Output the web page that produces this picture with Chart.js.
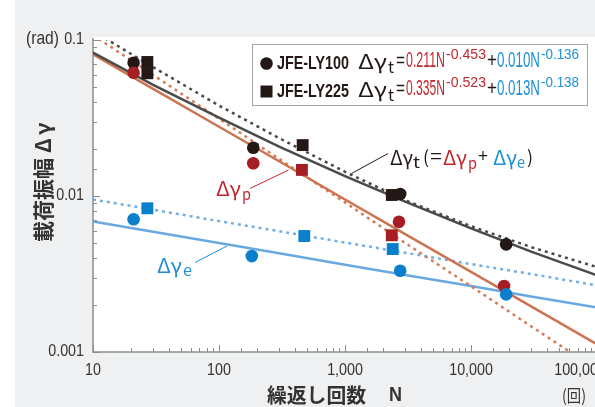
<!DOCTYPE html>
<html lang="ja">
<head>
<meta charset="utf-8">
<title>載荷振幅と繰返し回数</title>
<script src="https://cdn.jsdelivr.net/npm/chart.js@4.4.1/dist/chart.umd.min.js"></script>
<style>
  html, body { margin: 0; padding: 0; background: #fff; overflow: hidden; }
  #frame { position: relative; width: 595px; height: 407px; overflow: hidden;
           background: linear-gradient(to right, #fff 0, #fff 15px, #eff0f1 15px); }
  #chart { position: absolute; left: 0; top: 0; }
</style>
</head>
<body>
<div id="frame"><canvas id="chart" width="650" height="407"></canvas></div>
<script>
// fitted lines at these cycle counts
const cycles       = [10, 30, 100, 300, 1000, 3000, 10000, 30000, 100000, 200000];
const ly100Total   = [0.083, 0.0515, 0.0318, 0.0207, 0.0134, 0.0092, 0.0062, 0.0044, 0.0031, 0.0026];
const ly225Total   = [0.114, 0.067, 0.038, 0.0235, 0.0143, 0.0094, 0.0064, 0.0047, 0.0035, 0.0030];
const ly100Plastic = [0.081, 0.0486, 0.0278, 0.0167, 0.0095, 0.0057, 0.00326, 0.00196, 0.00112, 0.00081];
const ly225Plastic = [0.1076, 0.0597, 0.0313, 0.0173, 0.0091, 0.0050, 0.00264, 0.00146, 0.00077, 0.00053];
const ly100Elastic = [0.00686, 0.0059, 0.00499, 0.00429, 0.00363, 0.00312, 0.00265, 0.00227, 0.00193, 0.00175];
const ly225Elastic = [0.0095, 0.00817, 0.0069, 0.00595, 0.00503, 0.00433, 0.00366, 0.00316, 0.00267, 0.00242];

// test points (JFE-LY100 = circles, JFE-LY225 = squares)
const ly100TotalN   = [21, 187, 2740, 19000];
const ly100TotalPts = [0.0715, 0.0204, 0.0103, 0.0049];
const ly100PlastN   = [21, 187, 2680, 18300];
const ly100PlastPts = [0.0617, 0.0162, 0.00684, 0.00265];
const ly100ElasN    = [21, 182, 2740, 19000];
const ly100ElasPts  = [0.00709, 0.00412, 0.00332, 0.00234];
const ly225TotalN   = [27, 27, 461, 2350];
const ly225TotalPts = [0.0723, 0.0612, 0.0212, 0.01015];
const ly225PlastN   = [455, 2350];
const ly225PlastPts = [0.0147, 0.0056];
const ly225ElasN    = [27, 475, 2390];
const ly225ElasPts  = [0.00834, 0.00554, 0.00457];

const xTickLabels = [10, 100, 1000, 10000, 100000];
const yTickLabels = [0.1, 0.01, 0.001];

const SANS = '"Liberation Sans", Arial, sans-serif';
const JP = '"Noto Sans CJK JP", sans-serif';
const INK = '#231815', RED = '#c1272d', BLUE = '#1e8fd5';

const pts = (xs, ys) => xs.map((x, i) => ({ x: x, y: ys[i] }));
const isDecade = v => { const e = Math.log10(v); return Math.abs(e - Math.round(e)) < 1e-6; };
const comma = v => String(Math.round(v)).replace(/\B(?=(\d{3})+(?!\d))/g, ',');

function lineSet(data, color, dashed) {
  return { type: 'line', data: data, borderColor: color, borderWidth: 2.5,
           borderDash: dashed ? [3, 4] : [], pointRadius: 0, tension: 0, fill: false, order: 5 };
}
function markSet(data, color, style, r, order) {
  return { type: 'scatter', data: data, pointStyle: style, pointRadius: r, pointHoverRadius: r,
           backgroundColor: color, borderWidth: 0, order: order };
}

// text helper: w = target width, or sx = horizontal squeeze
function put(ctx, text, x, y, font, color, w, align, sx) {
  ctx.save();
  ctx.font = font; ctx.fillStyle = color; ctx.textBaseline = 'middle'; ctx.textAlign = align || 'left';
  ctx.translate(x, y);
  if (w) { const m = ctx.measureText(text).width; ctx.scale(w / m, 1); }
  else if (sx) ctx.scale(sx, 1);
  ctx.fillText(text, 0, 0);
  ctx.restore();
}
function leader(ctx, x1, y1, x2, y2, color) {
  ctx.save(); ctx.strokeStyle = color; ctx.lineWidth = 1;
  ctx.beginPath(); ctx.moveTo(x1, y1); ctx.lineTo(x2, y2); ctx.stroke(); ctx.restore();
}

const decor = {
  id: 'decor',
  beforeDatasetsDraw(chart) {
    const { ctx, chartArea: a } = chart;
    const xs = chart.scales.x, ys = chart.scales.y;
    ctx.save();
    ctx.fillStyle = '#fff';
    ctx.fillRect(a.left, a.top - 3, a.right - a.left, a.bottom - a.top + 3);
    ctx.strokeStyle = '#8c8c8c'; ctx.lineWidth = 1;
    for (const t of xs.ticks) {
      const px = Math.round(xs.getPixelForValue(t.value)) + 0.5;
      ctx.beginPath(); ctx.moveTo(px, a.bottom); ctx.lineTo(px, a.bottom - (isDecade(t.value) ? 7 : 4)); ctx.stroke();
    }
    for (const t of ys.ticks) {
      const py = Math.round(ys.getPixelForValue(t.value)) + 0.5;
      ctx.beginPath(); ctx.moveTo(a.left, py); ctx.lineTo(a.left + (isDecade(t.value) ? 7 : 4), py); ctx.stroke();
    }
    ctx.lineWidth = 1.5;
    ctx.beginPath(); ctx.moveTo(a.left, a.top - 2); ctx.lineTo(a.left, a.bottom); ctx.lineTo(a.right, a.bottom); ctx.stroke();
    ctx.restore();
  },
  afterDatasetsDraw(chart) {
    const ctx = chart.ctx;
    // legend box
    ctx.save();
    ctx.fillStyle = '#fff'; ctx.fillRect(252.5, 44.5, 335, 61);
    ctx.strokeStyle = '#a5a5a5'; ctx.lineWidth = 1; ctx.strokeRect(252.5, 44.5, 335, 61);
    ctx.fillStyle = INK;
    ctx.beginPath(); ctx.arc(266.5, 63.5, 6.3, 0, Math.PI * 2); ctx.fill();
    ctx.fillRect(260.5, 85.5, 12, 12);
    ctx.restore();
    const rows = [[63.5, 'JFE-LY100', '0.211N', '-0.453', '0.010N', '-0.136'],
                  [91.7, 'JFE-LY225', '0.335N', '-0.523', '0.013N', '-0.138']];
    for (const [y, name, a1, e1, a2, e2] of rows) {
      put(ctx, name, 277, y, 'bold 19px ' + SANS, INK, 72);
      put(ctx, 'Δγ', 358, y - 2.5, '20px ' + JP, INK, 29);
      put(ctx, 't', 388, y + 3.5, '16px ' + JP, INK, 6);
      put(ctx, '=', 396, y - 2.5, '20px ' + SANS, INK, 9);
      put(ctx, a1, 406, y - 3, '22px ' + SANS, RED, 39);
      put(ctx, e1, 446, y - 8.5, '14px ' + SANS, RED, 40);
      put(ctx, '+', 487, y - 2.5, '20px ' + SANS, INK, 10);
      put(ctx, a2, 497, y - 3, '22px ' + SANS, BLUE, 43);
      put(ctx, e2, 541, y - 8.5, '14px ' + SANS, BLUE, 38);
    }
    // annotations
    leader(ctx, 351.5, 173.5, 388, 153.5, INK);
    put(ctx, 'Δγ', 390, 157, '20px ' + JP, INK, 23);
    put(ctx, 't', 413, 162, '15px ' + JP, INK, 7);
    put(ctx, '(', 423, 157, '18px ' + JP, INK, 6);
    put(ctx, '=', 430, 157, '18px ' + SANS, INK, 12);
    put(ctx, 'Δγ', 443, 157, '20px ' + JP, RED, 24);
    put(ctx, 'p', 468, 163, '15px ' + JP, RED, 9);
    put(ctx, '+', 478, 157, '18px ' + SANS, INK, 10);
    put(ctx, 'Δγ', 493, 157, '20px ' + JP, BLUE, 24);
    put(ctx, 'e', 517, 162, '15px ' + JP, BLUE, 8);
    put(ctx, ')', 527, 157, '18px ' + JP, INK, 6);

    leader(ctx, 250, 188.5, 288.5, 170, RED);
    put(ctx, 'Δγ', 216, 188, '20px ' + JP, RED, 25);
    put(ctx, 'p', 242, 194, '15px ' + JP, RED, 9);

    leader(ctx, 195, 262.5, 227, 246, BLUE);
    put(ctx, 'Δγ', 157, 265, '20px ' + JP, BLUE, 25);
    put(ctx, 'e', 183, 270, '15px ' + JP, BLUE, 9);
  },
  afterDraw(chart) {
    const ctx = chart.ctx;
    const xs = chart.scales.x, ys = chart.scales.y;
    // tick labels, condensed
    for (const v of xTickLabels) {
      const px = Math.min(xs.getPixelForValue(v), 580);
      put(ctx, comma(v), px, 370, '17px ' + SANS, '#333', 0, 'center', 0.84);
    }
    for (const v of yTickLabels) {
      put(ctx, String(v), 84, ys.getPixelForValue(v) - 1, '17px ' + SANS, '#333', 0, 'right', 0.84);
    }
    put(ctx, '(rad)', 26, 38.5, '19px ' + SANS, '#333', 33);
    // y title, rotated
    ctx.save();
    ctx.translate(43, 0); ctx.rotate(-Math.PI / 2);
    ctx.font = 'bold 21px ' + JP; ctx.fillStyle = '#333'; ctx.textBaseline = 'middle';
    ctx.fillText('載荷振幅', -242, 0);
    ctx.fillText('Δ', -153, 0);
    ctx.fillText('γ', -135, 0);
    ctx.restore();
    put(ctx, '繰返し回数', 267, 395, 'bold 20px ' + JP, '#333', 99);
    put(ctx, 'N', 389, 395, 'bold 20px ' + SANS, '#333', 13);
    put(ctx, '(回)', 562, 396, '17px ' + JP, '#333', 24);
  }
};

new Chart(document.getElementById('chart'), {
  data: {
    datasets: [
      markSet(pts(ly225ElasN, ly225ElasPts), '#0a7fcb', 'rect', 8.4, 1),
      markSet(pts(ly100ElasN, ly100ElasPts), '#0a7fcb', 'circle', 6.3, 1),
      markSet(pts(ly225PlastN, ly225PlastPts), '#a61d24', 'rect', 8.4, 2),
      markSet(pts(ly100PlastN, ly100PlastPts), '#a61d24', 'circle', 6.3, 2),
      markSet(pts(ly225TotalN, ly225TotalPts), INK, 'rect', 8.4, 3),
      markSet(pts(ly100TotalN, ly100TotalPts), INK, 'circle', 6.3, 3),
      lineSet(pts(cycles, ly100Total), '#4a4a4a', false),
      lineSet(pts(cycles, ly225Total), '#4a4a4a', true),
      lineSet(pts(cycles, ly100Plastic), '#cd7350', false),
      lineSet(pts(cycles, ly225Plastic), '#d27e58', true),
      lineSet(pts(cycles, ly100Elastic), '#6aa8e2', false),
      lineSet(pts(cycles, ly225Elastic), '#72afe6', true)
    ]
  },
  options: {
    responsive: false,
    animation: false,
    events: [],
    layout: { padding: { top: 40, right: 15, left: 0, bottom: 0 } },
    plugins: { legend: { display: false }, tooltip: { enabled: false } },
    scales: {
      x: {
        type: 'logarithmic', min: 10, max: 200000,
        afterFit: s => { s.height = 55; },
        grid: { display: false }, border: { display: false },
        ticks: { display: false, autoSkip: false }
      },
      y: {
        type: 'logarithmic', min: 0.001, max: 0.1,
        afterFit: s => { s.width = 93; },
        grid: { display: false }, border: { display: false },
        ticks: { display: false, autoSkip: false }
      }
    }
  },
  plugins: [decor]
});
</script>
</body>
</html>
